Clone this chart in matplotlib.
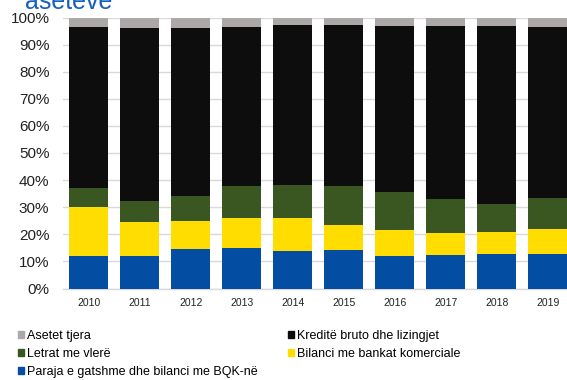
import numpy as np
import matplotlib.pyplot as plt
from matplotlib.patches import Patch

plt.rcParams['font.family'] = ['Liberation Sans', 'DejaVu Sans']

years = ['2010', '2011', '2012', '2013', '2014', '2015', '2016', '2017', '2018', '2019']

# cumulative shares (top of each layer), %
paraja_top  = [12.1, 12.1, 14.7, 14.8, 13.7, 14.2, 12.1, 12.5, 12.6, 12.7]
bilanci_top = [30.0, 24.7, 24.9, 26.0, 26.0, 23.5, 21.7, 20.4, 20.7, 22.0]
letrat_top  = [37.1, 32.3, 34.1, 37.8, 38.2, 37.7, 35.7, 32.9, 31.2, 33.3]
kredite_top = [96.6, 96.2, 96.2, 96.6, 97.1, 97.1, 97.0, 97.0, 97.0, 96.6]

paraja  = np.array(paraja_top)
bilanci = np.array(bilanci_top) - np.array(paraja_top)
letrat  = np.array(letrat_top) - np.array(bilanci_top)
kredite = np.array(kredite_top) - np.array(letrat_top)
tjera   = 100 - np.array(kredite_top)

c_tjera, c_kred, c_letr, c_bil, c_par = '#ABA8A7', '#0D0D0D', '#3A5722', '#FFDD00', '#034EA2'

fig = plt.figure(figsize=(5.67, 3.80), dpi=100)
ax = fig.add_axes([63.3/567, 1 - 288.5/380, 510/567, 271/380])

x = np.arange(len(years))
w = 0.765
bottom = np.zeros(len(years))
for vals, col in [(paraja, c_par), (bilanci, c_bil), (letrat, c_letr), (kredite, c_kred), (tjera, c_tjera)]:
    ax.bar(x, vals, w, bottom=bottom, color=col, zorder=3)
    bottom += vals

ax.set_xlim(-0.5, len(years) - 0.5)
ax.set_ylim(0, 100)
ax.set_yticks(np.arange(0, 101, 10))
ax.set_yticklabels([f'{v}%' for v in range(0, 101, 10)], fontsize=11, color='#222222')
ax.set_xticks(x)
ax.set_xticklabels(years, fontsize=7.5, color='#222222')
ax.tick_params(axis='y', length=0, pad=10)
ax.tick_params(axis='x', length=0, pad=7)
ax.grid(axis='y', color='#D9D9D9', linewidth=1, zorder=0)
for s in ['top', 'right', 'left']:
    ax.spines[s].set_visible(False)
ax.spines['bottom'].set_color('#D9D9D9')
ax.spines['bottom'].set_linewidth(1)

fig.text(25/567, 1 - 9/380, 'asetevë', fontsize=18, color='#1560BD', va='baseline', ha='left')

handles = [Patch(color=c_tjera), Patch(color=c_letr), Patch(color=c_par),
           Patch(color=c_kred), Patch(color=c_bil)]
labels = ['Asetet tjera', 'Letrat me vlerë', 'Paraja e gatshme dhe bilanci me BQK-në',
          'Kreditë bruto dhe lizingjet', 'Bilanci me bankat komerciale']
fig.legend(handles, labels, ncol=2, loc='upper left', bbox_to_anchor=(18/567, 1 - 330/380),
           frameon=False, fontsize=9, handlelength=0.5, handleheight=0.5,
           handletextpad=0.2, labelspacing=0.47, columnspacing=2.45, borderpad=0, borderaxespad=0)

fig.savefig('out.png', dpi=100)
